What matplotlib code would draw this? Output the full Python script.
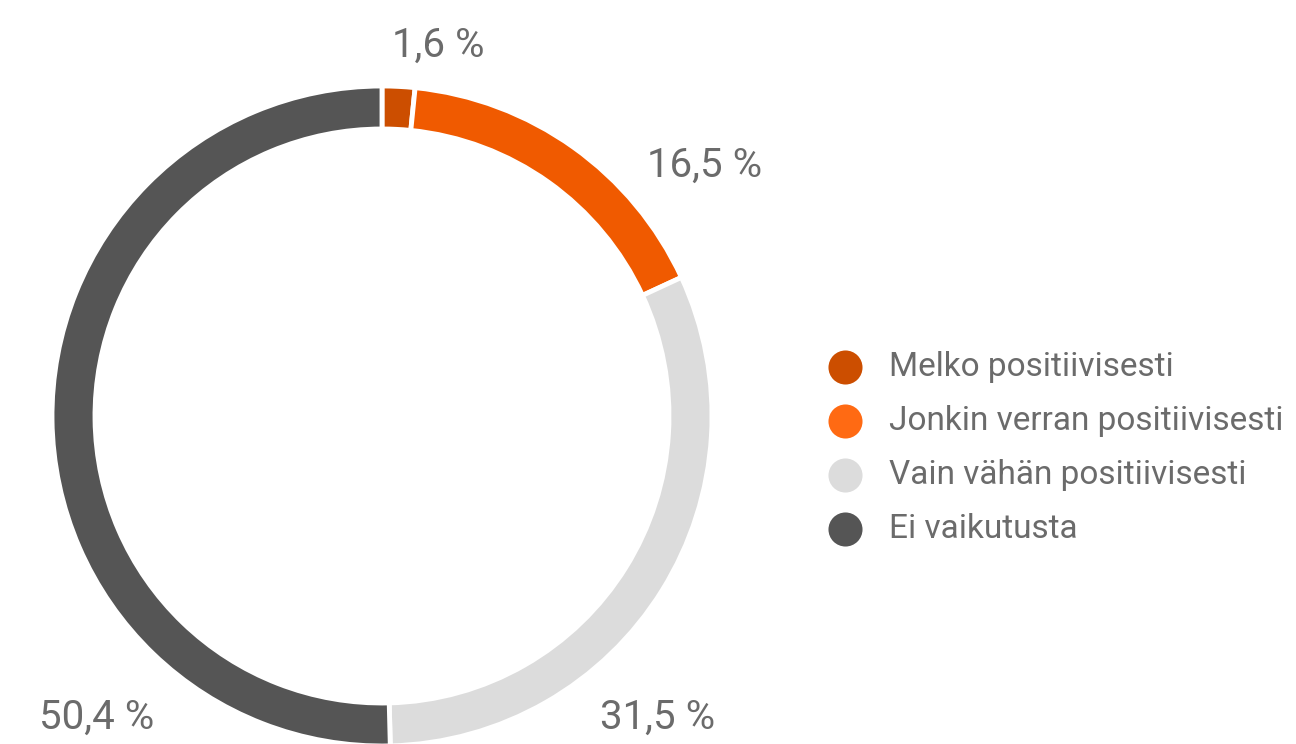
import matplotlib
matplotlib.use("Agg")
import matplotlib.pyplot as plt

categories = ["Melko positiivisesti", "Jonkin verran positiivisesti",
              "Vain vähän positiivisesti", "Ei vaikutusta"]
values = [1.6, 16.5, 31.5, 50.4]
value_labels = ["1,6 %", "16,5 %", "31,5 %", "50,4 %"]

wedge_colors = ["#CC4E00", "#F05A00", "#DCDCDC", "#555555"]
legend_colors = ["#CC4E00", "#FF6A13", "#DCDCDC", "#555555"]

# layout (pixels, y measured from top)
W, H = 1296, 744
cx, cy = 382, 416
r_out, r_in = 330, 287
label_pos = [(438, 45), (705, 165), (658, 717), (97, 717)]
text_color = "#6B6B6B"
font = "Roboto"

fig = plt.figure(figsize=(W / 100, H / 100), dpi=100)
ax = fig.add_axes([0, 0, 1, 1])

ax.pie(values, colors=wedge_colors, startangle=90, counterclock=False,
       center=(cx, H - cy), radius=r_out,
       wedgeprops=dict(width=r_out - r_in, edgecolor="white", linewidth=3.5),
       frame=True)
ax.set_xlim(0, W)
ax.set_ylim(0, H)
ax.axis("off")

for lab, (x, y) in zip(value_labels, label_pos):
    ax.text(x, H - y, lab, ha="center", va="center", fontsize=29,
            color=text_color, family=font, fontweight="normal")

leg_x, leg_y0, leg_dy = 845, 367, 54
for i, (lab, col) in enumerate(zip(categories, legend_colors)):
    y = H - (leg_y0 + i * leg_dy)
    ax.scatter([leg_x], [y], s=34 ** 2 * 0.52, color=col, zorder=5,
               linewidths=0)
    ax.text(889, y, lab, ha="left", va="center", fontsize=24,
            color=text_color, family=font, fontweight="normal")

fig.savefig("out.png", dpi=100)
